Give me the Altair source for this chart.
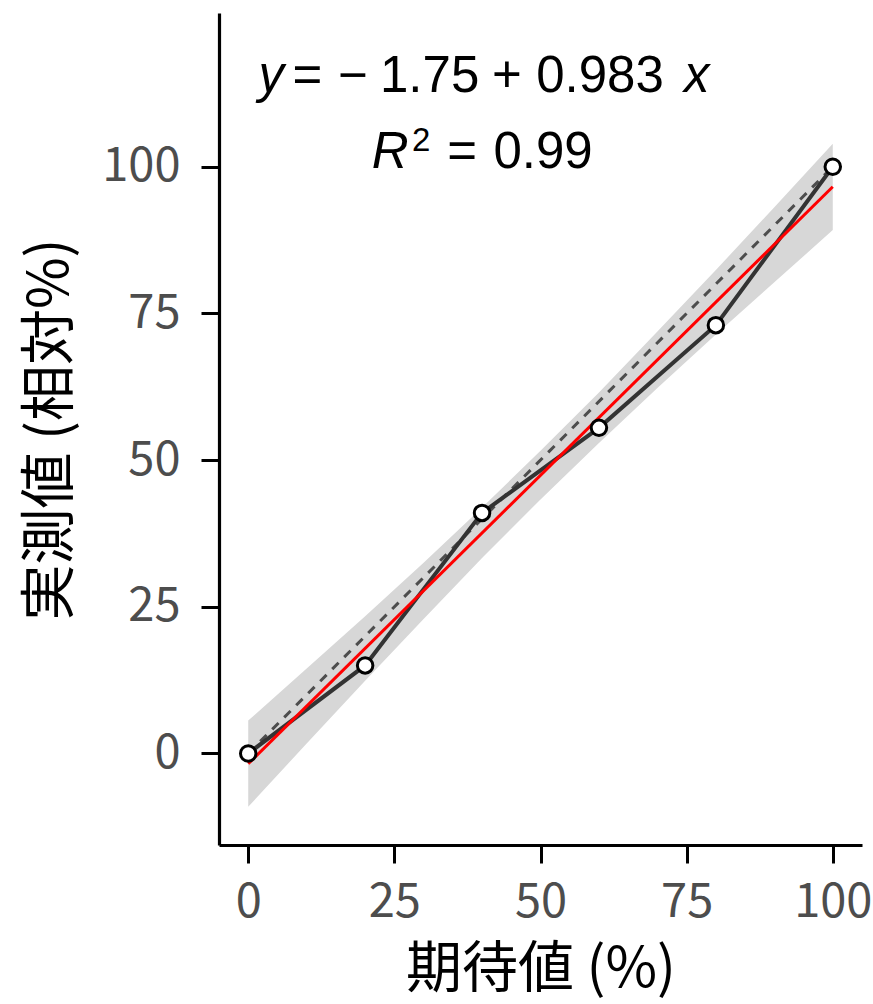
import altair as alt
import pandas as pd

# observed points
exp_x = [0, 20, 40, 60, 80, 100]
obs_y = [0, 15, 41, 55.5, 73, 100]

# confidence band
band_x = [0, 10, 20, 30, 40, 50, 60, 70, 80, 90, 100]
band_lo = [-9.1, 1.7, 12.4, 22.9, 33.3, 43.3, 52.9, 62.3, 71.4, 80.3, 89.2]
band_hi = [5.6, 14.5, 23.4, 32.5, 41.9, 51.6, 61.5, 71.9, 82.4, 93.1, 103.9]

# identity line
id_x = [0, 100]
id_y = [0, 100]

x_ticks = [0, 25, 50, 75, 100]
y_ticks = [0, 25, 50, 75, 100]

x_title = "期待値 (%)"
y_title = "実測値 (相対%)"

pts = pd.DataFrame({"x": exp_x, "y": obs_y})
band = pd.DataFrame({"x": band_x, "lo": band_lo, "hi": band_hi})
ident = pd.DataFrame({"x": id_x, "y": id_y})

XS = alt.Scale(domain=[-5, 105], nice=False, zero=False)
YS = alt.Scale(domain=[-15.6, 126.2], nice=False, zero=False)

xaxis = alt.Axis(values=x_ticks, title=x_title, format="d")
yaxis = alt.Axis(values=y_ticks, title=y_title, format="d")
xenc = alt.X("x:Q", scale=XS, axis=xaxis)
yenc = alt.Y("y:Q", scale=YS, axis=yaxis)

band_layer = alt.Chart(band).mark_area(color="#D7D7D7", opacity=1).encode(
    x=alt.X("x:Q", scale=XS, axis=xaxis),
    y=alt.Y("lo:Q", scale=YS, axis=yaxis),
    y2="hi:Q",
)

id_layer = alt.Chart(ident).mark_line(color="#4D4D4D", strokeWidth=3, strokeDash=[9, 8]).encode(
    x=xenc, y=yenc
)

conn_layer = alt.Chart(pts).mark_line(color="#333333", strokeWidth=4).encode(x=xenc, y=yenc)

reg_layer = alt.Chart(pts).transform_regression("x", "y", extent=[0, 100]).mark_line(
    color="#FF0000", strokeWidth=3
).encode(x=xenc, y=yenc)

pt_layer = alt.Chart(pts).mark_point(
    filled=False, fill="white", fillOpacity=1, color="black", strokeWidth=3, size=240, opacity=1
).encode(x=xenc, y=yenc)

# annotation pieces (equation and R^2), placed in data coordinates
ann_font = "Liberation Sans"
ann_size = 51

ann_italic = pd.DataFrame({
    "x": [3.93, 76.75, 24.27],
    "y": [112.78, 112.78, 99.83],
    "t": ["y", "x", "R"],
})
ann_plain = pd.DataFrame({
    "x": [10.1, 17.95, 31.03, 44.27, 60.17, 36.58, 50.43],
    "y": [112.78, 112.78, 112.78, 112.78, 112.78, 99.83, 99.83],
    "t": ["=", "\u2212", "1.75", "+", "0.983", "=", "0.99"],
})
ann_sup = pd.DataFrame({"x": [29.57], "y": [102.6], "t": ["2"]})

def txt(df, italic=False, size=ann_size):
    kw = dict(font=ann_font, fontSize=size, align="center", baseline="alphabetic", color="black")
    if italic:
        kw["fontStyle"] = "italic"
    return alt.Chart(df).mark_text(**kw).encode(x=xenc, y=yenc, text="t:N")

ann = [txt(ann_italic, True), txt(ann_plain), txt(ann_sup, False, 33)]

chart = alt.layer(band_layer, id_layer, conn_layer, reg_layer, pt_layer, *ann).properties(
    width=643, height=832,
    autosize=alt.AutoSizeParams(type="none"),
    padding={"left": 219, "top": 13, "right": 11, "bottom": 159},
).configure_view(stroke=None).configure_axis(
    grid=False,
    domainColor="black",
    domainWidth=3.2,
    tickColor="black",
    tickWidth=3,
    tickSize=18,
    labelColor="#4D4D4D",
    labelFont="Noto Sans CJK JP",
    labelFontSize=47,
    titleFont="Noto Sans CJK JP",
    titleFontSize=56,
    titleFontWeight="normal",
    titleColor="black",
).configure_axisX(labelPadding=16, titlePadding=17).configure_axisY(labelPadding=21, titlePadding=22)

chart.save("out.html", embed_options={"renderer": "svg", "actions": False})
